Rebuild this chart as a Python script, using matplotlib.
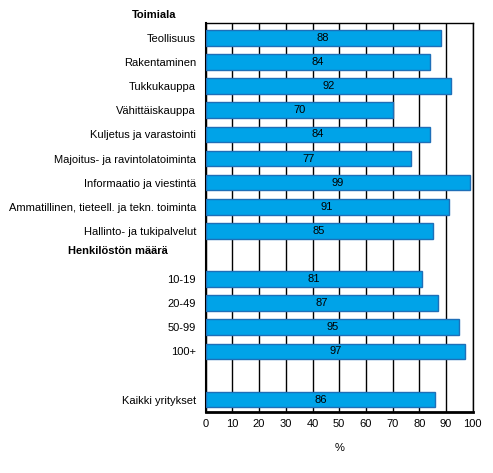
import matplotlib
matplotlib.use("Agg")
import matplotlib.pyplot as plt

categories = ["Teollisuus", "Rakentaminen", "Tukkukauppa", "Vähittäiskauppa",
              "Kuljetus ja varastointi", "Majoitus- ja ravintolatoiminta",
              "Informaatio ja viestintä", "Ammatillinen, tieteell. ja tekn. toiminta",
              "Hallinto- ja tukipalvelut", "", "10-19", "20-49", "50-99", "100+", "",
              "Kaikki yritykset"]
values = [88, 84, 92, 70, 84, 77, 99, 91, 85, None, 81, 87, 95, 97, None, 86]
headings = ["Toimiala", "Henkilöstön määrä"]
xticks = list(range(0, 101, 10))

plt.rcParams['font.family'] = ['Liberation Sans', 'DejaVu Sans']

fig = plt.figure(figsize=(4.93, 4.73), dpi=100)
ax = fig.add_axes([205.7/493, 1-411.7/473, (472.7-205.7)/493, (411.7-23.5)/473])

fill = "#00A3E8"
edge = "#1E6FB8"
for i, v in enumerate(values):
    if v is None:
        continue
    ax.barh(i, v, height=0.65, color=fill, edgecolor=edge, linewidth=1, zorder=3)
    ax.text(v/2, i, f"{v}", ha="center", va="center", fontsize=8, color="black", zorder=4)

ax.set_xlim(0, 100)
ax.set_ylim(15.5, -0.6)
ax.set_yticks(range(len(categories)))
ax.set_yticklabels(categories, fontsize=8)
ax.set_xticks(xticks)
ax.set_xticklabels([str(t) for t in xticks], fontsize=8)
ax.tick_params(axis='both', length=0)
ax.tick_params(axis='y', pad=7)
ax.tick_params(axis='x', pad=5)
ax.xaxis.grid(True, color="black", linewidth=1, zorder=1)
ax.set_axisbelow(True)
for s in ["top", "right"]:
    ax.spines[s].set_linewidth(1)
    ax.spines[s].set_color("black")
ax.spines["left"].set_linewidth(1.5)
ax.spines["left"].set_color("black")
ax.spines["bottom"].set_linewidth(2)
ax.spines["bottom"].set_color("black")
ax.set_xlabel("%", fontsize=8, labelpad=10)

fig.text(154/493, 1-15/473, headings[0], ha="center", va="center", fontsize=8, fontweight="bold")
fig.text(118/493, 1-251/473, headings[1], ha="center", va="center", fontsize=8, fontweight="bold")

fig.savefig("out.png", dpi=100, facecolor="white")
